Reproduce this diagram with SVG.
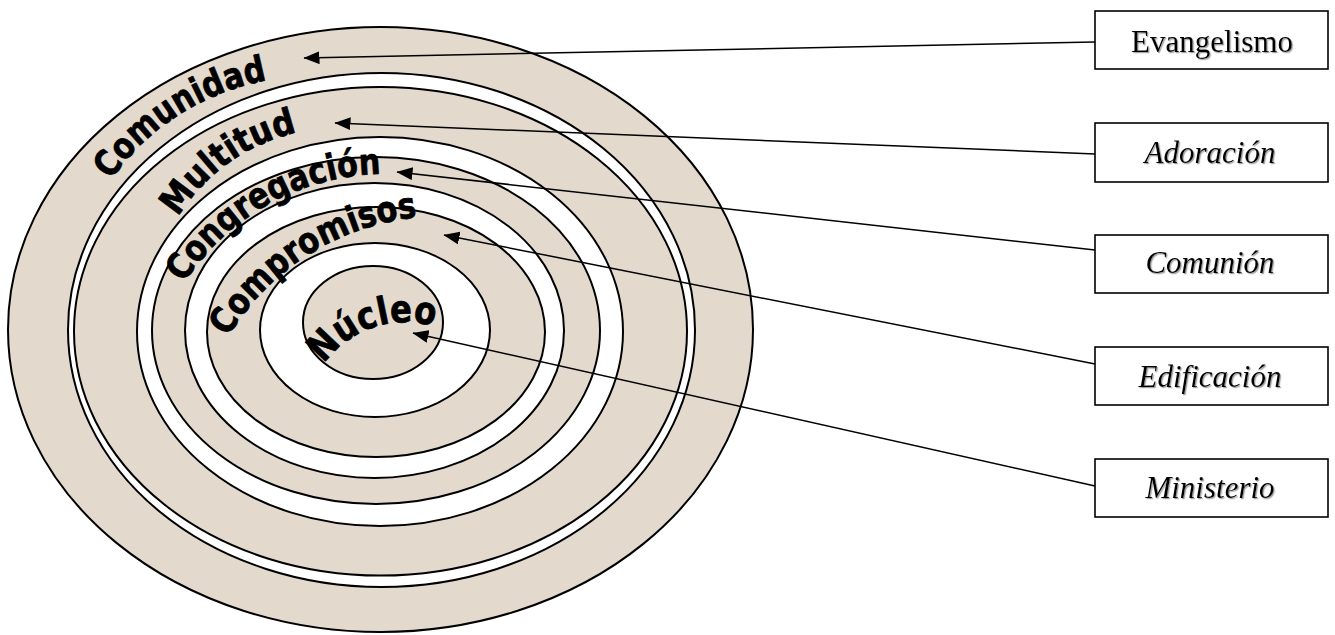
<svg xmlns="http://www.w3.org/2000/svg" width="1335" height="635" viewBox="0 0 1335 635">
  <style>
    .tan { fill: #e3dacd; stroke: #000; stroke-width: 2; }
    .wht { fill: #ffffff; stroke: #000; stroke-width: 2; }
    .lbl { font-family: "DejaVu Sans", "Liberation Sans", sans-serif; font-weight: bold; font-size: 36px; fill: #000; stroke: #000; stroke-width: 0.8; stroke-linejoin: round; }
    .box { fill: #fff; stroke: #000; stroke-width: 1.6; }
    .bt { font-family: "Liberation Serif", "Times New Roman", serif; font-size: 31px; fill: #000; text-anchor: middle; filter: url(#shadow); }
    .it { font-style: italic; }
    .con { stroke: #000; stroke-width: 1.5; fill: none; marker-end: url(#arrow); }
  </style>
  <defs>
    <marker id="arrow" viewBox="0 0 16 13" refX="15.5" refY="6.5" markerWidth="16" markerHeight="13" markerUnits="userSpaceOnUse" orient="auto">
      <path d="M0,0 L16,6.5 L0,13 z" fill="#000"/>
    </marker>
    <filter id="shadow" x="-10%" y="-20%" width="120%" height="150%">
      <feDropShadow dx="1.2" dy="1.2" stdDeviation="0.6" flood-color="#888" flood-opacity="0.8"/>
    </filter>
    <path id="p-comunidad" d="M111 180 A245 245 0 0 1 268 80"/>
    <path id="p-multitud" d="M178 217 A190 190 0 0 1 298 132"/>
    <path id="p-congregacion" d="M184 283 A240 240 0 0 1 384 174"/>
    <path id="p-compromisos" d="M228 337 A250 250 0 0 1 421 217"/>
    <path id="p-nucleo" d="M324 364 A100 100 0 0 1 436 327"/>
  </defs>

  <g id="ring-comunidad"><ellipse class="tan" cx="380.5" cy="329.5" rx="372.5" ry="302.5"/></g>
  <g id="ring-gap"><ellipse class="wht" cx="381.5" cy="330" rx="313.5" ry="257"/></g>
  <g id="ring-multitud"><ellipse class="tan" cx="380.5" cy="331.3" rx="306.5" ry="244.3"/></g>
  <g id="ring-white-1"><ellipse class="wht" cx="380" cy="331.5" rx="243" ry="194.5"/></g>
  <g id="ring-congregacion"><ellipse class="tan" cx="376" cy="330.5" rx="224" ry="173.5"/></g>
  <g id="ring-white-2"><ellipse class="wht" cx="374.5" cy="330.5" rx="189.5" ry="147.5"/></g>
  <g id="ring-compromisos"><ellipse class="tan" cx="376" cy="332" rx="169" ry="125"/></g>
  <g id="ring-white-3"><ellipse class="wht" cx="375" cy="330" rx="115" ry="87"/></g>
  <g id="ring-nucleo"><ellipse class="tan" cx="373" cy="322.5" rx="70" ry="56.5"/></g>

  <g id="label-comunidad"><text class="lbl"><textPath href="#p-comunidad" textLength="190" lengthAdjust="spacingAndGlyphs">Comunidad</textPath></text></g>
  <g id="label-multitud"><text class="lbl"><textPath href="#p-multitud" textLength="150" lengthAdjust="spacingAndGlyphs">Multitud</textPath></text></g>
  <g id="label-congregacion"><text class="lbl"><textPath href="#p-congregacion" textLength="234" lengthAdjust="spacingAndGlyphs">Congregación</textPath></text></g>
  <g id="label-compromisos"><text class="lbl"><textPath href="#p-compromisos" textLength="232" lengthAdjust="spacingAndGlyphs">Compromisos</textPath></text></g>
  <g id="label-nucleo"><text class="lbl" style="font-size:38px"><textPath href="#p-nucleo" textLength="124" lengthAdjust="spacingAndGlyphs">Núcleo</textPath></text></g>

  <g id="connectors">
    <line class="con" x1="1095" y1="42" x2="304" y2="58"/>
    <line class="con" x1="1095" y1="154" x2="335" y2="123"/>
    <line class="con" x1="1095" y1="250" x2="397" y2="172"/>
    <line class="con" x1="1095" y1="364" x2="444" y2="235"/>
    <line class="con" x1="1095" y1="486" x2="413" y2="333"/>
  </g>

  <g id="box-evangelismo"><rect class="box" x="1095" y="11" width="233" height="58"/><text class="bt" x="1212" y="52">Evangelismo</text></g>
  <g id="box-adoracion"><rect class="box" x="1095" y="123" width="233" height="59"/><text class="bt it" x="1210" y="163">Adoración</text></g>
  <g id="box-comunion"><rect class="box" x="1095" y="235" width="233" height="58"/><text class="bt it" x="1210" y="273">Comunión</text></g>
  <g id="box-edificacion"><rect class="box" x="1095" y="347" width="233" height="58"/><text class="bt it" x="1210" y="387">Edificación</text></g>
  <g id="box-ministerio"><rect class="box" x="1095" y="459" width="233" height="58"/><text class="bt it" x="1210" y="498">Ministerio</text></g>
</svg>
